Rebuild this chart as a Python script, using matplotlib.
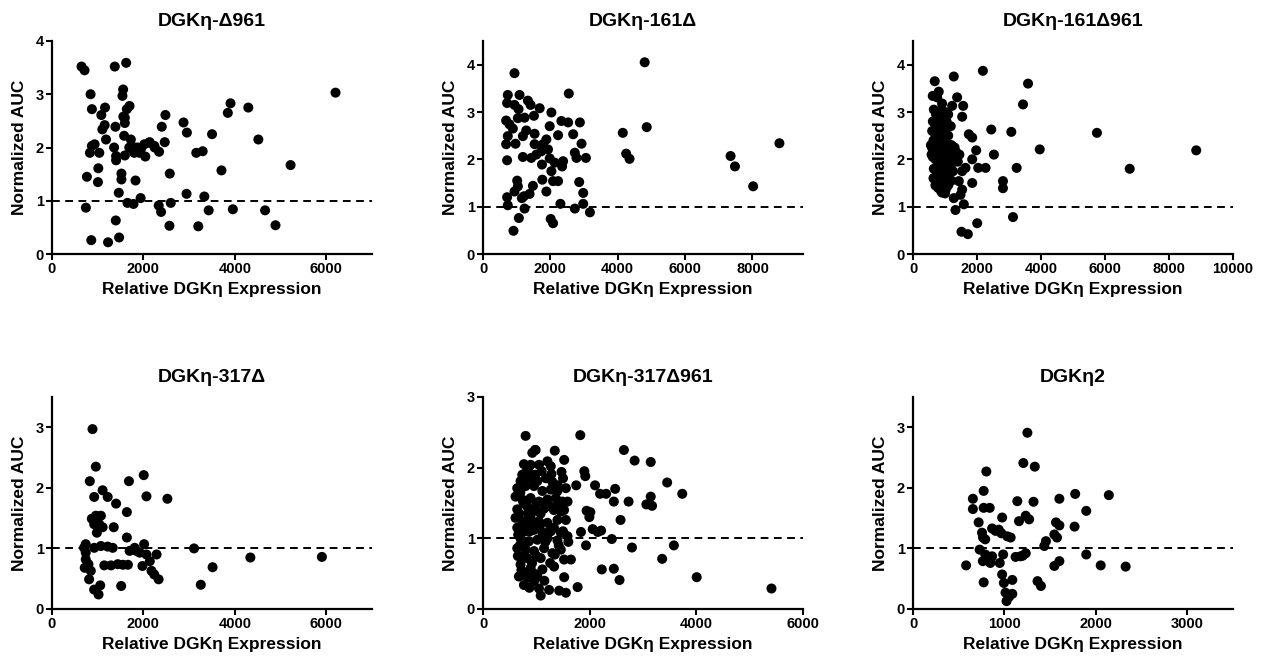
import numpy as np
import matplotlib.pyplot as plt

plt.rcParams['font.family'] = ['Liberation Sans', 'DejaVu Sans']
plt.rcParams['font.weight'] = 'bold'
plt.rcParams['axes.labelweight'] = 'bold'
plt.rcParams['axes.titleweight'] = 'bold'

# DGKη-Δ961
d961_x = [646, 712, 1622, 1373, 844, 1541, 1556, 873, 1160, 1079, 1152, 1101, 1182, 1696, 1637,
          1593, 1593, 1387, 1578, 873, 932, 829, 1035, 1358, 1402, 1402, 1593, 1013, 1005, 763,
          1519, 1519, 1827, 1461, 741, 1651, 1783, 1938, 1395, 859, 1226, 1468, 1725, 1762, 1872,
          1945, 2019, 2129, 1916, 1798, 2041, 2239, 2342, 2401, 2481, 2466, 2576, 2598, 2334, 2386,
          2569, 2877, 2951, 2943, 3156, 3296, 3332, 3200, 3428, 3501, 3707, 3846, 3905, 3956, 4294,
          4514, 4661, 4889, 5219, 6202, 1806, 2136, 2246, 1690, 1560]
d961_y = [3.52, 3.45, 3.59, 3.52, 3.00, 2.97, 3.09, 2.72, 2.75, 2.61, 2.42, 2.34, 2.15, 2.78, 2.72,
          2.56, 2.46, 2.39, 2.22, 2.03, 2.06, 1.90, 1.90, 2.00, 1.84, 1.76, 1.85, 1.61, 1.35, 1.45,
          1.51, 1.40, 1.38, 1.15, 0.87, 0.96, 0.94, 1.05, 0.63, 0.26, 0.22, 0.31, 2.15, 1.97, 2.00,
          1.97, 2.06, 2.09, 1.90, 1.90, 1.83, 2.03, 1.92, 2.39, 2.61, 2.10, 1.51, 0.96, 0.91, 0.79,
          0.53, 2.47, 2.28, 1.13, 1.90, 1.93, 1.08, 0.52, 0.82, 2.25, 1.57, 2.65, 2.83, 0.84, 2.75,
          2.15, 0.82, 0.54, 1.67, 3.03, 2.00, 2.10, 2.00, 2.00, 2.58]

# DGKη-161Δ
d161_x = [935, 736, 1085, 716, 935, 1055, 1333, 1413, 1682, 2030, 2547, 2328, 2527, 2876, 687,
          786, 886, 1035, 1234, 1512, 1980, 2229, 2677, 1284, 1184, 1532, 736, 687, 965, 1532,
          1881, 1781, 1930, 2925, 716, 1184, 1433, 1582, 1731, 1980, 2129, 2378, 2348, 2030, 2726,
          2776, 3055, 1751, 2080, 2229, 1761, 1881, 2856, 2975, 1015, 1035, 935, 1214, 1383, 1482,
          716, 736, 1154, 1234, 2298, 2726, 2975, 3174, 1065, 2010, 2080, 905,
          4150, 4250, 4350, 4800, 4860, 7350, 7480, 8020, 8800]
d161_y = [3.82, 3.36, 3.36, 3.19, 3.15, 3.06, 3.24, 3.15, 3.08, 2.99, 3.39, 2.81, 2.78, 2.78, 2.82,
          2.74, 2.65, 2.87, 2.88, 2.92, 2.70, 2.51, 2.53, 2.61, 2.49, 2.54, 2.49, 2.32, 2.33, 2.32,
          2.42, 2.32, 2.21, 2.33, 1.98, 2.05, 2.03, 2.10, 2.17, 2.02, 1.93, 1.96, 1.85, 1.75, 2.14,
          2.03, 2.03, 1.89, 1.54, 1.54, 1.57, 1.32, 1.52, 1.29, 1.55, 1.43, 1.32, 1.22, 1.27, 1.44,
          1.20, 1.03, 1.18, 0.96, 1.06, 0.96, 1.06, 0.88, 0.76, 0.74, 0.65, 0.49,
          2.56, 2.12, 2.01, 4.05, 2.68, 2.07, 1.85, 1.43, 2.34]

# DGKη-161Δ961
d161_961_x = [679, 1275, 2184, 3595, 617, 805, 752, 1379, 1223, 1568, 1536, 3438, 909, 2445, 3072,
              1745, 1850, 1975, 2529, 1850, 2038, 2268, 3240, 1536, 1641, 1850, 2811, 2811, 1432,
              1536, 1484, 1275, 1588, 1327, 2006, 3125, 1515, 1714, 3961, 5748, 6772, 8851,
              650, 720, 800, 880, 950, 1000, 1100, 620, 700, 780, 860, 930, 1050, 1180,
              600, 680, 760, 840, 920, 1000, 1100, 640, 720, 800, 880, 960, 1040, 1200, 1300,
              590, 660, 740, 820, 900, 980, 1060, 1150, 1250, 1350, 1450, 620, 700, 780, 860,
              940, 1020, 1100, 1200, 1300, 1400, 650, 730, 810, 890, 970, 1050, 1150, 1250,
              640, 720, 800, 880, 960, 1040, 1120, 1200, 700, 780, 860, 940, 1020, 1100, 900,
              1000, 560, 580]
d161_961_y = [3.65, 3.75, 3.87, 3.60, 3.34, 3.43, 3.31, 3.31, 3.13, 3.13, 2.90, 3.16, 3.18, 2.63, 2.58,
              2.53, 2.46, 2.19, 2.10, 2.00, 1.82, 1.82, 1.82, 1.75, 1.82, 1.50, 1.54, 1.39, 1.54,
              1.36, 1.25, 1.18, 1.05, 0.93, 0.65, 0.78, 0.47, 0.42, 2.21, 2.56, 1.80, 2.19,
              3.05, 2.95, 3.00, 3.05, 2.90, 3.00, 2.95, 2.80, 2.75, 2.80, 2.70, 2.75, 2.80, 2.70,
              2.60, 2.55, 2.60, 2.50, 2.55, 2.60, 2.50, 2.40, 2.35, 2.40, 2.30, 2.40, 2.35, 2.30, 2.25,
              2.25, 2.15, 2.20, 2.10, 2.20, 2.15, 2.10, 2.20, 2.10, 2.15, 2.10, 2.05, 2.00, 1.95, 2.00,
              1.90, 2.00, 1.95, 1.90, 2.00, 1.95, 1.80, 1.75, 1.80, 1.70, 1.75, 1.80, 1.70, 1.75,
              1.60, 1.55, 1.60, 1.50, 1.55, 1.60, 1.50, 1.55, 1.45, 1.40, 1.35, 1.40, 1.35, 1.45, 1.30,
              1.28, 2.30, 2.10]

# DGKη-317Δ
d317_x = [886, 959, 827, 1683, 2007, 1107, 923, 1218, 2066, 2524, 1402, 1638, 871, 959, 1070,
          923, 1107, 1350, 982, 1033, 1638, 738, 701, 923, 1070, 1218, 1328, 2015, 1808, 1697,
          1845, 1919, 2066, 2288, 738, 738, 797, 716, 849, 1144, 1292, 1439, 1550, 1661, 1978,
          2140, 2177, 2236, 2332, 812, 1055, 922, 1018, 1513,
          3107, 3255, 3513, 4339, 5904]
d317_y = [2.97, 2.35, 2.11, 2.11, 2.21, 1.96, 1.85, 1.85, 1.86, 1.82, 1.74, 1.60, 1.49, 1.54, 1.54,
          1.40, 1.35, 1.35, 1.26, 1.40, 1.18, 1.07, 1.01, 1.01, 1.04, 1.03, 1.01, 1.07, 1.01, 0.96,
          0.96, 0.93, 0.90, 0.90, 0.93, 0.82, 0.74, 0.68, 0.63, 0.72, 0.72, 0.74, 0.73, 0.73, 0.71,
          0.79, 0.63, 0.57, 0.49, 0.49, 0.39, 0.32, 0.24, 0.38,
          1.00, 0.40, 0.69, 0.85, 0.86]

# DGKη-317Δ961
d317_961_x = [799, 1824, 987, 1346, 2642, 2843, 3145, 3453, 3736, 1900, 1918, 1748, 2101, 2478, 2195,
              2308, 2453, 2730, 3145, 3063, 3170, 1943, 2013, 1994, 2579, 2057, 2151, 2214, 1837,
              2415, 1931, 2793, 3579, 3359, 2227, 2453, 2560, 4007, 5409, 1774,
              925, 975, 1522, 767, 893, 1050, 1208, 1271, 1472, 1283, 736, 881, 704, 925, 1019,
              642, 799, 956, 1113, 1271, 1396, 1554, 610, 736, 893, 1050, 1208, 1365, 1491, 1585,
              642, 830, 988, 1145, 1271, 1459, 610, 736, 893, 1050, 1208, 1396, 1554, 642, 799,
              956, 1113, 1271, 1459, 1585, 704, 862, 1019, 1208, 1396, 642, 799, 956, 1145, 1302,
              1459, 654, 830, 1082, 1346, 704, 893, 1113, 1333, 1648, 673, 830, 1019, 1522, 767,
              956, 1050, 1239, 1428, 1554, 1082,
              700, 760, 820, 900, 980, 1100, 1180, 1300, 1400, 1500,
              680, 760, 840, 920, 1000, 1080, 1160, 1330, 1420, 1520,
              660, 720, 800, 880, 940, 1060, 1130, 1240, 1330, 1500,
              690, 760, 840, 920, 1000, 1170, 1260, 1420, 1520, 1600,
              720, 800, 960, 1150, 870]
d317_961_y = [2.45, 2.46, 2.25, 2.24, 2.25, 2.10, 2.08, 1.79, 1.63, 1.95, 1.88, 1.75, 1.75, 1.70, 1.63,
              1.63, 1.52, 1.52, 1.59, 1.48, 1.46, 1.39, 1.37, 1.30, 1.26, 1.13, 1.09, 1.11, 1.09,
              0.99, 0.90, 0.87, 0.90, 0.71, 0.56, 0.57, 0.41, 0.45, 0.29, 0.31,
              2.21, 2.25, 2.11, 2.05, 2.04, 2.04, 2.09, 2.02, 1.94, 1.91, 1.90, 1.92, 1.81, 1.85, 1.81,
              1.71, 1.74, 1.74, 1.67, 1.69, 1.67, 1.71, 1.59, 1.55, 1.57, 1.52, 1.55, 1.57, 1.52, 1.52,
              1.41, 1.45, 1.39, 1.42, 1.45, 1.38, 1.29, 1.24, 1.29, 1.24, 1.22, 1.26, 1.26, 1.15, 1.10,
              1.12, 1.08, 1.10, 1.08, 1.03, 1.00, 0.96, 0.98, 1.00, 0.97, 0.86, 0.84, 0.82, 0.86, 0.79,
              0.84, 0.75, 0.72, 0.72, 0.77, 0.63, 0.58, 0.56, 0.60, 0.70, 0.46, 0.44, 0.46, 0.45, 0.34,
              0.39, 0.29, 0.27, 0.26, 0.23, 0.19,
              1.65, 1.80, 1.95, 1.85, 1.90, 1.95, 1.85, 1.80, 1.75, 1.85,
              1.35, 1.50, 1.35, 1.40, 1.50, 1.35, 1.50, 1.40, 1.50, 1.40,
              1.05, 1.15, 1.20, 1.10, 1.20, 1.15, 1.05, 1.10, 1.15, 1.10,
              0.90, 0.75, 0.95, 0.65, 0.75, 0.95, 0.65, 0.90, 0.70, 0.95,
              0.55, 0.48, 0.50, 0.40, 0.30]

# DGKη2
d2_x = [1251, 1207, 1332, 802, 773, 655, 655, 773, 839, 1141, 1318, 1601, 1774, 2142, 1895,
        975, 1159, 1233, 1270, 718, 1564, 1601, 1767, 865, 902, 938, 967, 1031, 1068, 755,
        766, 790, 1546, 1575, 1454, 1436, 729, 791, 865, 764, 846, 949, 986, 1122, 1177,
        1233, 1200, 581, 1601, 1546, 1895, 2053, 975, 994, 1086, 773, 1362, 1399, 1012, 1086,
        1023, 1050, 2326]
d2_y = [2.91, 2.41, 2.35, 2.27, 1.95, 1.82, 1.65, 1.67, 1.67, 1.78, 1.77, 1.82, 1.90, 1.88, 1.62,
        1.51, 1.45, 1.54, 1.48, 1.43, 1.43, 1.38, 1.36, 1.33, 1.29, 1.31, 1.25, 1.20, 1.18, 1.26,
        1.18, 1.15, 1.23, 1.18, 1.12, 1.04, 0.98, 0.90, 0.87, 0.79, 0.76, 0.76, 0.90, 0.86, 0.87,
        0.92, 0.88, 0.72, 0.79, 0.71, 0.90, 0.72, 0.57, 0.43, 0.48, 0.44, 0.46, 0.38, 0.27, 0.25,
        0.13, 0.20, 0.70]

titles = ['DGKη-Δ961', 'DGKη-161Δ', 'DGKη-161Δ961', 'DGKη-317Δ', 'DGKη-317Δ961', 'DGKη2']
xs = [d961_x, d161_x, d161_961_x, d317_x, d317_961_x, d2_x]
ys = [d961_y, d161_y, d161_961_y, d317_y, d317_961_y, d2_y]
xlims = [7000, 9500, 10000, 7000, 6000, 3500]
xstep = [2000, 2000, 2000, 2000, 2000, 1000]
ylims = [4, 4.5, 4.5, 3.5, 3, 3.5]
ytop = [4, 4, 4, 3, 3, 3]

fig = plt.figure(figsize=(12.64, 6.62), dpi=100)
lefts = [52, 483, 913]
rows = [(41, 254), (397, 609)]
W, H = 1264, 662

for i in range(6):
    r, c = divmod(i, 3)
    top, bot = rows[r]
    ax = fig.add_axes([lefts[c] / W, 1 - bot / H, 320 / W, (bot - top) / H])
    ax.scatter(xs[i], ys[i], s=52, color='black', edgecolors='none', zorder=3, clip_on=False)
    ax.axhline(1, color='black', lw=1.4, ls=(0, (4, 2.8)), zorder=2)
    ax.set_xlim(0, xlims[i])
    ax.set_ylim(0, ylims[i])
    ax.set_xticks(np.arange(0, xlims[i] + 1, xstep[i]))
    ax.set_yticks(np.arange(0, ytop[i] + 1, 1))
    for s in ['top', 'right']:
        ax.spines[s].set_visible(False)
    for s in ['left', 'bottom']:
        ax.spines[s].set_linewidth(1.6)
    ax.tick_params(width=1.5, length=4, labelsize=10.5, pad=2)
    ax.set_title(titles[i], fontsize=14, pad=11)
    ax.set_xlabel('Relative DGKη Expression', fontsize=12.5, labelpad=4)
    ax.set_ylabel('Normalized AUC', fontsize=12.5, labelpad=6)

plt.savefig('out.png', dpi=100)
